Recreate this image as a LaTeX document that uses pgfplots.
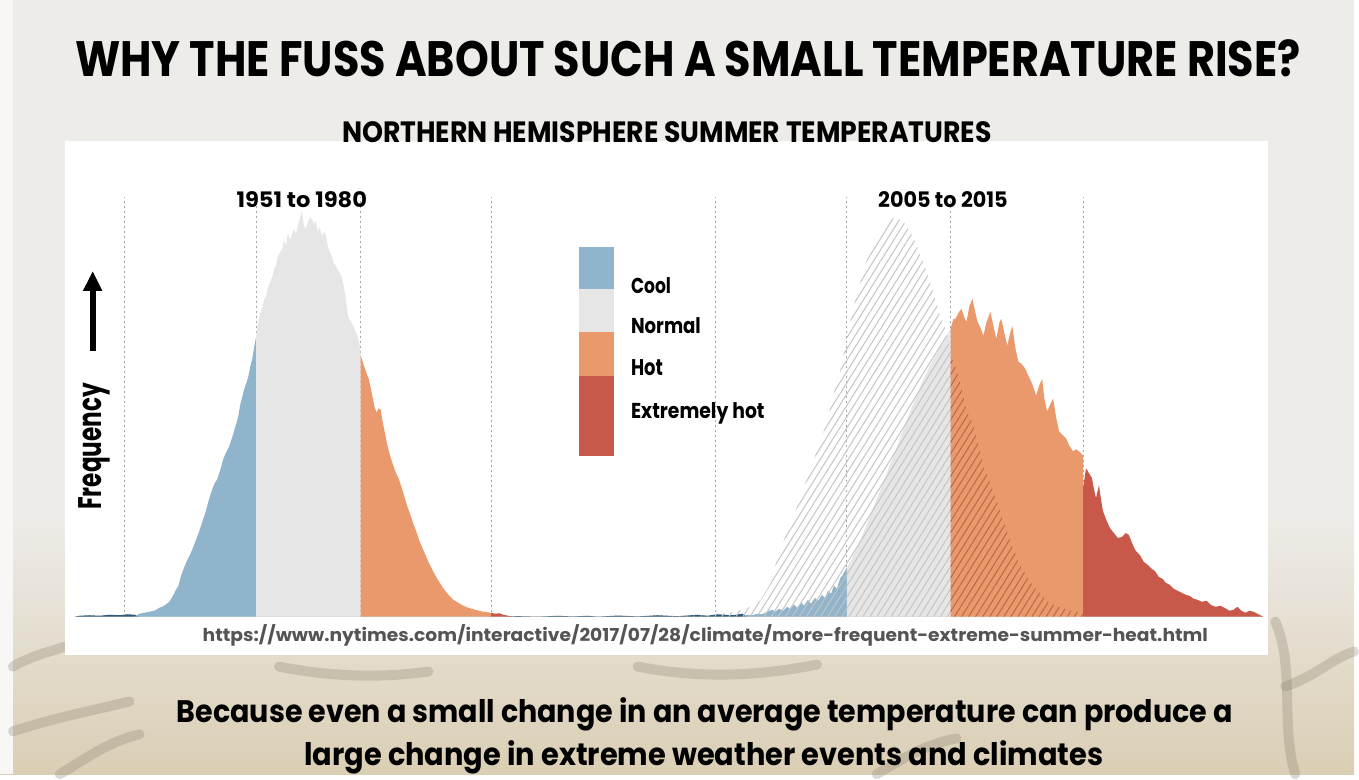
\documentclass[border=0pt]{standalone}
\usepackage{pgfplots}
\pgfplotsset{compat=1.18}
\usepackage{fontspec}
\setmainfont{Poppins}
\usetikzlibrary{patterns.meta,arrows.meta}
\definecolor{cool}{RGB}{143,180,203}
\definecolor{normal}{RGB}{230,230,230}
\definecolor{hot}{RGB}{233,153,108}
\definecolor{xhot}{RGB}{200,89,74}
\definecolor{darktail}{RGB}{50,90,120}
\definecolor{hatchgrey}{RGB}{196,196,196}
\definecolor{hatchhot}{RGB}{186,104,70}
\definecolor{bgtop}{RGB}{238,236,232}
\definecolor{bgbot}{RGB}{218,206,180}
\definecolor{crack}{RGB}{140,130,112}
\newcommand{\fitbox}[3]{\resizebox{#1pt}{#2pt}{\bfseries #3}}
\begin{document}
\begin{tikzpicture}
\begin{axis}[x=0.5pt, y=0.5pt, xmin=0, xmax=1359, ymin=-158, ymax=619,
  hide axis, clip=false, scale only axis]
% background
\fill[bgtop] (axis cs:0,-158) rectangle (axis cs:1359,619);
\shade[top color=bgtop, bottom color=bgbot] (axis cs:0,-158) rectangle (axis cs:1359,100);
\fill[white!60!bgtop] (axis cs:0,-158) rectangle (axis cs:13,619);
\begin{scope}[crack, opacity=0.3, line width=5pt, line cap=round]
\draw (axis cs:13,-50) .. controls (axis cs:30,-40) and (axis cs:50,-35) .. (axis cs:65,-30);
\draw (axis cs:13,-115) .. controls (axis cs:60,-100) and (axis cs:90,-95) .. (axis cs:130,-85);
\draw (axis cs:60,-158) .. controls (axis cs:90,-140) and (axis cs:110,-125) .. (axis cs:140,-118);
\draw (axis cs:280,-50) .. controls (axis cs:330,-60) and (axis cs:380,-62) .. (axis cs:430,-55);
\draw (axis cs:640,-50) .. controls (axis cs:700,-62) and (axis cs:760,-60) .. (axis cs:820,-48);
\draw (axis cs:880,-158) .. controls (axis cs:910,-140) and (axis cs:930,-128) .. (axis cs:960,-122);
\draw (axis cs:1280,-5) .. controls (axis cs:1300,-50) and (axis cs:1285,-110) .. (axis cs:1300,-158);
\draw (axis cs:1290,-70) .. controls (axis cs:1320,-60) and (axis cs:1340,-40) .. (axis cs:1359,-35);
\end{scope}
% white panel
\fill[white] (axis cs:65,-38) rectangle (axis cs:1273,477);
% dotted guides
\foreach \xx in {125,257,362,493,718,850,954,1087}{
  \edef\tmp{\noexpand\draw[gray!70, line width=0.5pt, dash pattern=on 1pt off 1.5pt] (axis cs:\xx,0) -- (axis cs:\xx,421);}\tmp
}
\draw[gray!35, line width=0.5pt] (axis cs:75,0) -- (axis cs:1268,0);
% tails
\addplot[fill=darktail, draw=none] coordinates {(75,0) (80,1) (90,1.5) (100,1) (110,2) (120,1.5) (128,2.5) (135,2) (140,0)} \closedcycle;
\addplot[fill=darktail, draw=none] coordinates {(505,0) (520,0.6) (540,0) (560,1) (575,0.2) (590,1) (600,0) (620,1.2) (640,0.3) (660,1.5) (680,0.5) (700,2) (710,1) (720,2.5) (735,1.5) (745,3) (750,0)} \closedcycle;
% 1951-1980 distribution
\addplot[fill=cool, draw=none] coordinates {(135,0) (140,3) (145,4) (150,5) (155,6) (160,9) (163,10) (166,12) (170,15) (173,20) (176,26) (179,31) (182,42) (185,50) (188,57) (191,63) (194,70) (197,78) (200,86) (203,95) (206,104) (209,115) (212,125) (215,133) (218,138) (221,147) (224,158) (227,165) (230,171) (233,180) (236,190) (239,200) (241,212) (243,220) (245,228) (247,234) (249,240) (251,250) (253,258) (255,270) (257,281)} \closedcycle;
\addplot[fill=normal, draw=none] coordinates {(257,281) (259,296) (261,304) (263,309) (265,318) (267,322) (269,330) (271,336) (273,340) (275,348) (277,353) (279,362) (281,366) (283,368) (285,378) (287,372) (289,385) (291,378) (293,383) (295,389) (297,384) (299,393) (301,400) (303,407) (305,392) (307,389) (309,396) (311,401) (313,399) (315,395) (317,397) (319,386) (321,391) (323,382) (325,386) (327,383) (329,372) (331,366) (333,362) (335,355) (337,352) (339,348) (341,345) (343,341) (345,332) (347,320) (349,303) (351,298) (353,295) (355,291) (357,286) (359,281) (361,272) (362,262)} \closedcycle;
\addplot[fill=hot, draw=none] coordinates {(362,262) (364,256) (366,250) (368,244) (370,239) (372,230) (374,220) (376,210) (378,205) (380,209) (382,208) (384,196) (386,186) (388,176) (390,167) (392,160) (394,154) (396,148) (398,143) (400,139) (403,130) (406,120) (409,110) (412,102) (415,93) (418,85) (421,76) (424,69) (427,62) (430,55) (433,49) (436,43) (439,38) (442,33) (446,27) (450,22) (455,17) (460,14) (465,11) (470,9) (477,7) (485,5) (493,4)} \closedcycle;
\addplot[fill=xhot, draw=none] coordinates {(493,4) (497,3) (501,3.5) (505,2) (510,1) (515,0)} \closedcycle;
% 2005-2015 distribution
\addplot[fill=cool, draw=none] coordinates {(745,0) (750,2) (755,1.5) (760,3) (765,2.5) (770,5) (775,7) (778,5) (782,8) (786,6) (790,10) (793,8) (797,12) (800,9) (804,14) (807,11) (811,17) (814,13) (818,19) (821,16) (825,22) (828,19) (831,26) (834,23) (837,31) (840,28) (843,38) (846,42) (848,46) (850,49)} \closedcycle;
\addplot[fill=normal, draw=none] coordinates {(850,49) (855,58) (860,69) (865,80) (870,93) (875,106) (880,118) (885,131) (890,144) (895,157) (900,170) (905,184) (910,197) (915,210) (920,222) (925,234) (930,245) (935,255) (940,264) (945,273) (950,282) (954,289)} \closedcycle;
\addplot[fill=hot, draw=none] coordinates {(954,289) (957,299) (959,299) (962,305) (965,309) (968,300) (970,296) (973,312) (976,319) (979,305) (981,296) (984,290) (987,282) (990,295) (994,306) (997,292) (1000,279) (1003,295) (1005,299) (1008,285) (1011,272) (1014,285) (1016,292) (1019,270) (1022,256) (1025,254) (1029,249) (1032,242) (1035,236) (1038,228) (1040,222) (1043,232) (1046,239) (1048,220) (1051,206) (1054,213) (1057,219) (1060,200) (1063,186) (1066,183) (1070,179) (1073,172) (1077,166) (1080,168) (1083,166) (1087,162)} \closedcycle;
\addplot[fill=xhot, draw=none] coordinates {(1087,129) (1090,149) (1093,144) (1096,139) (1098,128) (1100,119) (1103,132) (1105,118) (1107,106) (1110,98) (1114,89) (1118,84) (1122,79) (1126,80) (1130,84) (1133,82) (1137,72) (1140,66) (1144,62) (1148,55) (1152,52) (1156,48) (1159,46) (1163,40) (1167,38) (1170,34) (1174,32) (1178,28) (1182,26) (1186,24) (1190,22) (1194,21) (1198,18) (1202,17) (1206,15) (1211,16) (1215,12) (1220,10) (1225,11) (1229,9) (1234,6) (1238,7) (1242,10) (1246,6) (1250,4) (1254,6) (1258,5) (1262,3) (1266,1) (1268,0)} \closedcycle;
% 1951-1980 distribution shown hatched at its place on the right
\addplot[draw=none, pattern={Lines[angle=58,distance=3pt,line width=0.5pt]}, pattern color=hatchgrey] coordinates {(668,0) (718,2) (738,5) (753,10) (763,16) (773,33) (780,58) (788,80) (796,98) (803,120) (813,146) (821,170) (830,195) (836,222) (842,240) (850,281) (859,320) (869,355) (878,380) (886,390) (896,400) (906,398) (916,382) (925,360) (934,335) (943,303) (949,288) (954,265)} \closedcycle;
\addplot[draw=none, pattern={Lines[angle=58,distance=3pt,line width=0.5pt]}, pattern color=hatchhot] coordinates {(954,265) (955,261) (963,239) (970,208) (978,190) (987,152) (997,126) (1006,99) (1015,73) (1025,50) (1036,32) (1053,14) (1070,7) (1086,4) (1087,4)} \closedcycle;
% legend bar
\fill[cool] (axis cs:581,371) rectangle (axis cs:616,329);
\fill[normal] (axis cs:581,329) rectangle (axis cs:616,286);
\fill[hot] (axis cs:581,286) rectangle (axis cs:616,242);
\fill[xhot] (axis cs:581,242) rectangle (axis cs:616,161);
% texts
\node[anchor=base west, inner sep=0] at (axis cs:75,542) {\fitbox{615}{18.5}{WHY THE FUSS ABOUT SUCH A SMALL TEMPERATURE RISE?}};
\node[anchor=base west, inner sep=0] at (axis cs:343,476) {\fitbox{326}{10.5}{NORTHERN HEMISPHERE SUMMER TEMPERATURES}};
\node[anchor=base west, inner sep=0] at (axis cs:237,411) {\fitbox{65.5}{8}{1951 to 1980}};
\node[anchor=base west, inner sep=0] at (axis cs:881,411) {\fitbox{65}{8}{2005 to 2015}};
\node[anchor=base west, inner sep=0] at (axis cs:633,324) {\fitbox{20}{8}{Cool}};
\node[anchor=base west, inner sep=0] at (axis cs:633,284) {\fitbox{35}{8}{Normal}};
\node[anchor=base west, inner sep=0] at (axis cs:633,242) {\fitbox{16}{8}{Hot}};
\node[anchor=base west, inner sep=0] at (axis cs:633,199) {\fitbox{67}{8}{Extremely hot}};
\node[anchor=base west, inner sep=0, rotate=90] at (axis cs:102,107) {\fitbox{63.5}{11.5}{Frequency}};
\draw[line width=3pt, -{Triangle[width=9pt,length=10pt]}] (axis cs:93,267) -- (axis cs:93,347);
\node[anchor=base west, inner sep=0, text=black!67] at (axis cs:203,-25) {\fitbox{504.5}{8.5}{https://www.nytimes.com/interactive/2017/07/28/climate/more-frequent-extreme-summer-heat.html}};
\node[anchor=base west, inner sep=0] at (axis cs:177,-106) {\fitbox{530}{12.5}{Because even a small change in an average temperature can produce a}};
\node[anchor=base west, inner sep=0] at (axis cs:305,-149) {\fitbox{401}{12.5}{large change in extreme weather events and climates}};
\end{axis}
\end{tikzpicture}
\end{document}
